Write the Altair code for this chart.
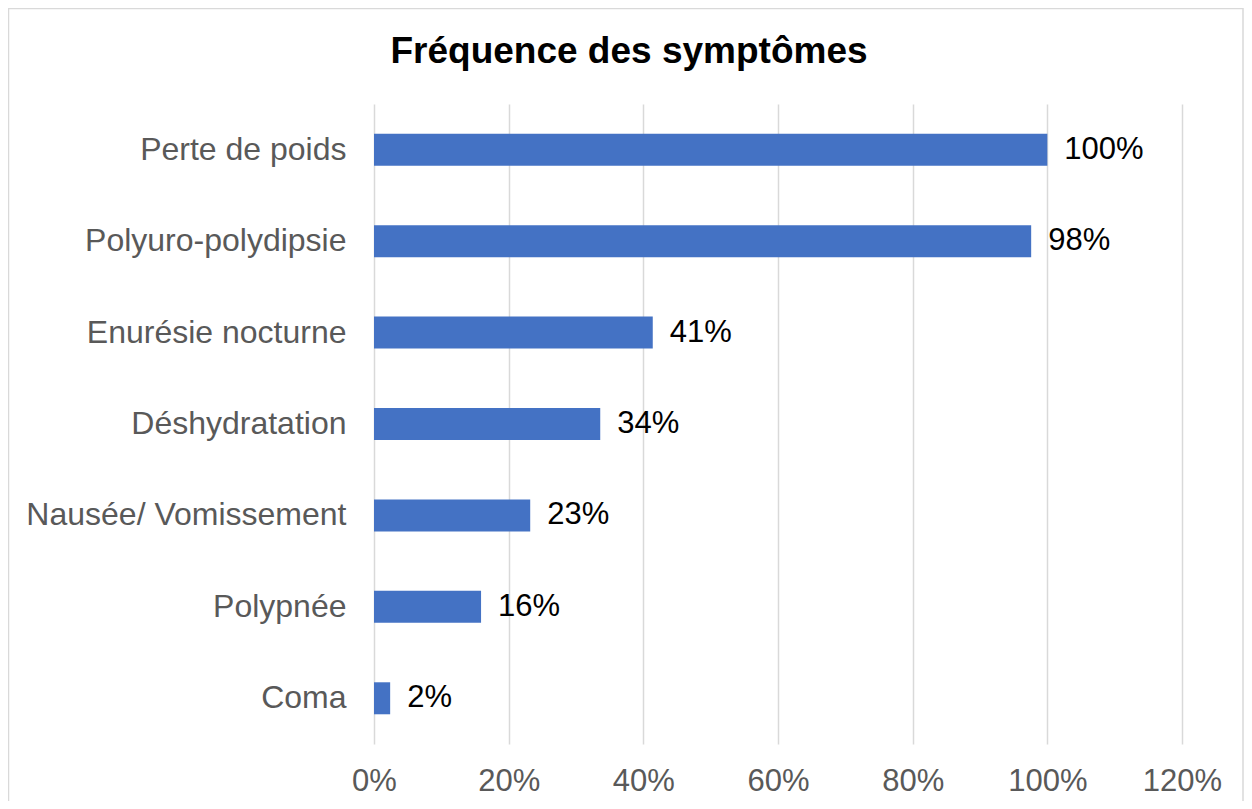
import altair as alt
import pandas as pd

symptoms = ["Perte de poids", "Polyuro-polydipsie", "Enurésie nocturne", "Déshydratation",
            "Nausée/ Vomissement", "Polypnée", "Coma"]
values = [1.00, 0.976, 0.414, 0.336, 0.232, 0.159, 0.024]
x_ticks = [0, 0.2, 0.4, 0.6, 0.8, 1.0, 1.2]
title_text = "Fréquence des symptômes"

df = pd.DataFrame({"symptome": symptoms, "valeur": values})

FONT = "Liberation Sans"

y_enc = alt.Y("symptome:N", sort=symptoms, title=None,
              scale=alt.Scale(paddingInner=0.65, paddingOuter=0.325),
              axis=alt.Axis(domain=False, ticks=False, tickSize=0, labelPadding=28,
                            labelFontSize=32, labelColor="#595959", labelFont=FONT,
                            grid=False, labelLimit=400))
x_enc = alt.X("valeur:Q", title=None,
              scale=alt.Scale(domain=[0, 1.2], nice=False),
              axis=alt.Axis(values=x_ticks, format=".0%", domain=False, ticks=False, tickSize=0,
                            labelPadding=22, labelFontSize=31, labelColor="#595959",
                            labelFont=FONT, labelFlush=False,
                            grid=True, gridColor="#d9d9d9", gridWidth=1.5))

bars = alt.Chart(df).mark_bar(color="#4472C4").encode(x=x_enc, y=y_enc)

labels = alt.Chart(df).mark_text(align="left", baseline="middle", dx=17, fontSize=31,
                                 font=FONT, color="#000000").encode(
    x="valeur:Q", y=alt.Y("symptome:N", sort=symptoms),
    text=alt.Text("valeur:Q", format=".0%"))

one = pd.DataFrame({"t": [title_text]})

border = alt.Chart(one).mark_rect(
    fill="transparent", stroke="#d9d9d9", strokeWidth=1.5).encode(
    x=alt.value(-365.5), x2=alt.value(869), y=alt.value(-95.5), y2=alt.value(720))

title = alt.Chart(one).mark_text(align="center", baseline="alphabetic", fontSize=37,
                                 fontWeight="bold", font=FONT, color="#000000").encode(
    x=alt.value(255), y=alt.value(-41), text="t:N")

chart = alt.layer(border, bars, labels, title).properties(
    width=808, height=640,
    padding={"left": 366, "top": 96, "right": 62, "bottom": 57},
    autosize=alt.AutoSizeParams(type="none"),
    background="#ffffff",
).configure_view(strokeWidth=0, stroke="transparent")

chart.save("out.html", embed_options={"renderer": "svg", "actions": False})
